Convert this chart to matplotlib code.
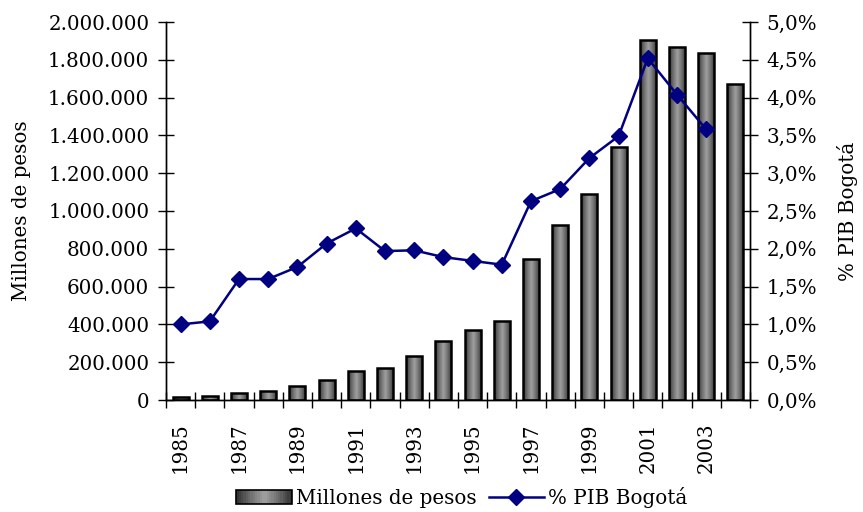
import numpy as np
import matplotlib
matplotlib.use("Agg")
import matplotlib.pyplot as plt
from matplotlib.ticker import FuncFormatter, FixedLocator
from matplotlib.colors import LinearSegmentedColormap
from matplotlib.legend_handler import HandlerBase
from matplotlib.patches import Rectangle
from matplotlib.lines import Line2D

years = list(range(1985, 2005))
millones = [15000, 20000, 37000, 50000, 72000, 105000, 152000, 170000, 233000, 312000,
            370000, 418000, 745000, 925000, 1090000, 1340000, 1905000, 1870000, 1838000, 1672000]
pib_years = list(range(1985, 2004))
pib_pct = [1.00, 1.04, 1.60, 1.60, 1.76, 2.07, 2.27, 1.97, 1.98, 1.89,
           1.84, 1.79, 2.63, 2.79, 3.20, 3.49, 4.52, 4.04, 3.58]

plt.rcParams['font.family'] = ['DejaVu Serif']
FS = 14.3

cmap = LinearSegmentedColormap.from_list("g", ["#353535", "#707070", "#a0a0a0", "#707070", "#353535"])
grad = np.linspace(0, 1, 64).reshape(1, -1)

fig = plt.figure(figsize=(8.63, 5.12), dpi=100)
ax = fig.add_axes([166/863, 1-400/512, (750-166)/863, (400-22)/512])
ax2 = ax.twinx()

x = np.arange(len(years))
bars = ax.bar(x, millones, width=0.55, facecolor='none', edgecolor='black', linewidth=1.8, zorder=3)
for b in bars:
    x0, y0, w, h = b.get_x(), b.get_y(), b.get_width(), b.get_height()
    im = ax.imshow(grad, cmap=cmap, extent=[x0, x0 + w, y0, y0 + h], aspect='auto', zorder=2,
                   interpolation='bilinear')
    im.set_clip_path(b)

ax.set_xlim(-0.5, len(years) - 0.5)
ax.set_ylim(0, 2000000)
ax.set_yticks(np.arange(0, 2000001, 200000))
ax.yaxis.set_major_formatter(FuncFormatter(lambda v, p: f"{int(v):,}".replace(",", ".")))

px = [years.index(y) for y in pib_years]
ax2.plot(px, pib_pct, color='#000080', linewidth=1.8, marker='D', markersize=8,
         markerfacecolor='#000080', markeredgecolor='#000080', zorder=4)
ax2.set_ylim(0, 5.0)
ax2.set_yticks(np.arange(0, 5.01, 0.5))
ax2.yaxis.set_major_formatter(FuncFormatter(lambda v, p: f"{v:.1f}".replace(".", ",") + "%"))

ax.set_xticks(x[::2])
ax.set_xticklabels([str(y) for y in years[::2]], rotation=90, fontsize=FS)
ax.xaxis.set_minor_locator(FixedLocator(np.arange(-0.5, len(years), 1.0)))
ax.tick_params(axis='x', which='major', length=0, pad=16)
ax.tick_params(axis='x', which='minor', direction='inout', length=12, width=1)
ax.tick_params(axis='y', direction='inout', length=12, width=1, labelsize=FS, pad=6)
ax2.tick_params(axis='y', direction='inout', length=12, width=1, labelsize=FS, pad=6)

for a in (ax, ax2):
    a.spines['top'].set_visible(False)
    for s in ('left', 'right', 'bottom'):
        a.spines[s].set_linewidth(1)
ax.patch.set_visible(False)

ax.set_ylabel("Millones de pesos", fontsize=FS, labelpad=12)
ax2.set_ylabel("% PIB Bogotá", fontsize=FS, labelpad=14)


class GradHandler(HandlerBase):
    def create_artists(self, legend, orig_handle, xdescent, ydescent, width, height, fontsize, trans):
        arts = []
        n = 24
        for i in range(n):
            c = cmap(i / (n - 1))
            r = Rectangle((-xdescent + width * i / n, -ydescent), width / n + 0.3, height,
                          facecolor=c, edgecolor='none', transform=trans)
            arts.append(r)
        arts.append(Rectangle((-xdescent, -ydescent), width, height, facecolor='none',
                              edgecolor='black', linewidth=1.2, transform=trans))
        return arts


bar_handle = Rectangle((0, 0), 1, 1)
line_handle = Line2D([], [], color='#000080', linewidth=1.8, marker='D', markersize=8)
fig.legend([bar_handle, line_handle], ["Millones de pesos", "% PIB Bogotá"],
           handler_map={Rectangle: GradHandler()}, loc='center', bbox_to_anchor=(462/863, 1-497/512),
           ncol=2, frameon=False, fontsize=FS, handlelength=2.8, handletextpad=0.2, columnspacing=0.6)

fig.savefig("out.png", dpi=100)
